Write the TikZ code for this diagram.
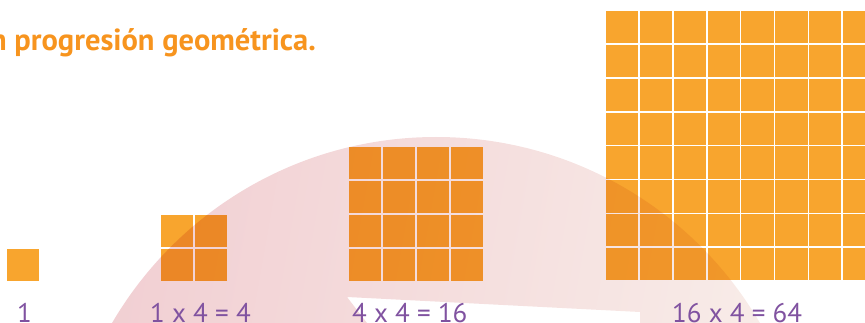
\documentclass[tikz,border=0pt]{standalone}
\usepackage{fontspec}
\setmainfont{PT Sans}
\definecolor{squareorange}{RGB}{248,165,46}
\definecolor{titleorange}{RGB}{247,148,30}
\definecolor{labelpurple}{RGB}{128,82,160}
\definecolor{arrowpink}{RGB}{241,206,210}
\definecolor{arrowpale}{RGB}{248,236,232}

\begin{document}
\begin{tikzpicture}[x=1pt, y=-1pt,
    sumlabel/.style={text=labelpurple, font=\fontsize{27}{27}\selectfont, inner sep=0pt, anchor=base west},
    cell/.style={fill=squareorange}]
    \useasboundingbox (0,0) rectangle (865,323);
    \clip (0,0) rectangle (865,323);
    % title (cut at the left edge)
    \node[anchor=base east, inner sep=0pt, text=titleorange, font=\bfseries\fontsize{30.5}{30.5}\selectfont] (title) at (316,51) {n progresión geométrica.};
    % squares 1, 2x2, 4x4, 8x8
    \def\s{33.85}
    \foreach \x/\y/\n in {7/249/1, 161/215/2, 349/147/4, 606/11/8} {
        \foreach \r in {1,...,\n} {
            \foreach \c in {1,...,\n} {
                \pgfmathsetmacro\cx{\x+(\c-1)*\s}
                \pgfmathsetmacro\cy{\y+(\r-1)*\s}
                \fill[cell] (\cx,\cy) rectangle ++(\s-1.5,\s-1.5);
            }
        }
    }
    % big curved arrow behind, multiplied over the squares
    \begin{scope}[blend mode=multiply]
        \clip (436,512) circle (375);
        \shade[left color=arrowpink, right color=arrowpale, shading angle=80, even odd rule]
            (60,120) rectangle (820,323)
            (347,297) -- (640,312) -- (640,323) -- (367,323) -- cycle;
    \end{scope}
    % sums
    \node[sumlabel] (one) at (17,322.5) {1};
    \node[sumlabel] (four) at (150,322.5) {1 x 4 = 4};
    \node[sumlabel] (sixteen) at (352,322.5) {4 x 4 = 16};
    \node[sumlabel] (sixtyfour) at (672,322.5) {16 x 4 = 64};
\end{tikzpicture}
\end{document}
